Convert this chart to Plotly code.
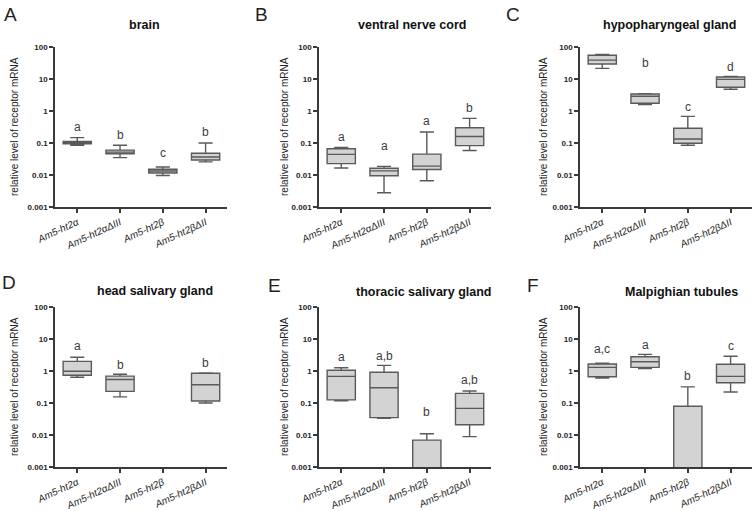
import math
import plotly.graph_objects as go

# ---------------- data ----------------
categories = ["Am5-ht2α", "Am5-ht2αΔIII", "Am5-ht2β", "Am5-ht2βΔII"]
tick_labels = ["<i>Am5-ht2α</i>", "<i>Am5-ht2αΔIII</i>", "<i>Am5-ht2β</i>", "<i>Am5-ht2βΔII</i>"]
panel_ids = ["A", "B", "C", "D", "E", "F"]
panel_titles = ["brain", "ventral nerve cord", "hypopharyngeal gland",
                "head salivary gland", "thoracic salivary gland", "Malpighian tubules"]
y_tick_vals = [0.001, 0.01, 0.1, 1, 10, 100]
y_tick_text = ["0.001", "0.01", "0.1", "1", "10", "100"]
y_title = "relative level of receptor mRNA"

# A brain
brain_low = [0.085, 0.035, 0.0096, 0.0257]
brain_q1 = [0.095, 0.046, 0.0115, 0.0295]
brain_med = [0.102, 0.052, 0.0133, 0.0365]
brain_q3 = [0.112, 0.060, 0.0151, 0.048]
brain_high = [0.147, 0.085, 0.0178, 0.10]
brain_letters = ["a", "b", "c", "b"]
brain_letter_y = [0.31, 0.18, 0.049, 0.22]

# B ventral nerve cord
vnc_low = [0.0165, 0.0028, 0.0066, 0.058]
vnc_q1 = [0.0227, 0.0095, 0.0148, 0.083]
vnc_med = [0.044, 0.0135, 0.019, 0.16]
vnc_q3 = [0.066, 0.0162, 0.045, 0.30]
vnc_high = [0.072, 0.0186, 0.22, 0.59]
vnc_letters = ["a", "a", "a", "b"]
vnc_letter_y = [0.155, 0.079, 0.50, 1.27]

# C hypopharyngeal gland
hpg_low = [21.5, 1.6, 0.085, 4.8]
hpg_q1 = [29.5, 1.74, 0.098, 5.5]
hpg_med = [39, 2.9, 0.133, 9.7]
hpg_q3 = [55, 3.4, 0.29, 11.5]
hpg_high = [59, 3.5, 0.68, 12]
hpg_letters = ["a", "b", "c", "d"]
hpg_letter_y = [282, 31.6, 1.38, 24.5]

# D head salivary gland (no data for Am5-ht2β)
hsg_low = [0.64, 0.155, None, 0.10]
hsg_q1 = [0.74, 0.23, None, 0.115]
hsg_med = [0.98, 0.54, None, 0.37]
hsg_q3 = [2.0, 0.69, None, 0.85]
hsg_high = [2.7, 0.79, None, 0.87]
hsg_letters = ["a", "b", "", "b"]
hsg_letter_y = [5.9, 1.58, None, 1.78]

# E thoracic salivary gland
tsg_low = [0.117, 0.033, 0.0001, 0.0089]
tsg_q1 = [0.125, 0.035, 0.0002, 0.021]
tsg_med = [0.68, 0.30, 0.0004, 0.068]
tsg_q3 = [1.05, 0.91, 0.0069, 0.20]
tsg_high = [1.26, 1.5, 0.011, 0.237]
tsg_letters = ["a", "a,b", "b", "a,b"]
tsg_letter_y = [2.75, 3.0, 0.051, 0.51]

# F Malpighian tubules
mt_low = [0.60, 1.2, 0.0001, 0.22]
mt_q1 = [0.66, 1.3, 0.0002, 0.43]
mt_med = [1.3, 1.95, 0.0006, 0.68]
mt_q3 = [1.66, 2.8, 0.079, 1.62]
mt_high = [1.74, 3.3, 0.32, 2.9]
mt_letters = ["a,c", "a", "b", "c"]
mt_letter_y = [4.7, 6.6, 0.71, 5.9]

panels = [
    (brain_low, brain_q1, brain_med, brain_q3, brain_high, brain_letters, brain_letter_y),
    (vnc_low, vnc_q1, vnc_med, vnc_q3, vnc_high, vnc_letters, vnc_letter_y),
    (hpg_low, hpg_q1, hpg_med, hpg_q3, hpg_high, hpg_letters, hpg_letter_y),
    (hsg_low, hsg_q1, hsg_med, hsg_q3, hsg_high, hsg_letters, hsg_letter_y),
    (tsg_low, tsg_q1, tsg_med, tsg_q3, tsg_high, tsg_letters, tsg_letter_y),
    (mt_low, mt_q1, mt_med, mt_q3, mt_high, mt_letters, mt_letter_y),
]

# ---------------- layout constants ----------------
W, H = 756, 511
FONT = "Liberation Sans, Arial, Helvetica, sans-serif"
x_dom_px = [(55, 227), (319, 491), (580, 752)]
y_dom_px = [(47, 207), (307, 467)]
title_pos_px = [(144, 25), (412, 25), (669, 25), (155, 291), (423, 292), (681, 292)]
letter_pos_px = [(10, 14), (261, 14), (513, 14), (9, 282), (274, 285), (533, 285)]
ytitle_x_px = [14, 284, 543]

def px_x(v):
    return v / W

def px_y(v):
    return 1 - v / H

fig = go.Figure()
layout = dict(
    width=W, height=H,
    margin=dict(l=0, r=0, t=0, b=0, autoexpand=False),
    paper_bgcolor="white", plot_bgcolor="white",
    showlegend=False,
    font=dict(family=FONT, color="#222"),
    annotations=[],
)

def paper_note(x, y, text, font, angle=0):
    return dict(x=px_x(x), y=px_y(y), xref="paper", yref="paper",
                xanchor="center", yanchor="middle", text=text,
                showarrow=False, textangle=angle, font=font)

for i, (low, q1, med, q3, high, letters, letter_y) in enumerate(panels):
    row, col = divmod(i, 3)
    s = "" if i == 0 else str(i + 1)
    xa, ya = "x" + s, "y" + s
    for j in range(len(categories)):
        if med[j] is None:
            continue
        fig.add_trace(go.Box(
            x=[j], q1=[q1[j]], median=[med[j]], q3=[q3[j]],
            lowerfence=[low[j]], upperfence=[high[j]],
            name=categories[j], xaxis=xa, yaxis=ya,
            width=0.66, whiskerwidth=0.5, boxpoints=False,
            fillcolor="#d3d3d3", line=dict(color="#5a5a5a", width=1.4),
            showlegend=False, hoverinfo="skip",
        ))
        if letters[j]:
            layout["annotations"].append(dict(
                x=j, y=math.log10(letter_y[j]), xref=xa, yref=ya,
                xanchor="center", yanchor="middle",
                text=letters[j], showarrow=False,
                font=dict(size=12, color="#3c3c3c", family=FONT),
            ))
    x0, x1 = x_dom_px[col]
    y0, y1 = y_dom_px[row]
    layout["xaxis" + s] = dict(
        domain=[px_x(x0), px_x(x1)], anchor=ya, automargin=False,
        range=[-0.52, 3.5], tickvals=list(range(len(categories))),
        ticktext=tick_labels, tickangle=-25,
        tickfont=dict(size=10, color="#1e1e1e", family=FONT),
        showline=True, linecolor="#3a3a3a", linewidth=1.5,
        ticks="outside", ticklen=4, tickwidth=1.5, tickcolor="#3a3a3a",
        showgrid=False, zeroline=False, fixedrange=True,
    )
    layout["yaxis" + s] = dict(
        domain=[px_y(y1), px_y(y0)], anchor=xa, type="log", automargin=False,
        range=[-3, 2], tickvals=y_tick_vals, ticktext=y_tick_text,
        tickfont=dict(size=8, color="#1e1e1e", family=FONT, weight="bold"),
        showline=True, linecolor="#3a3a3a", linewidth=1.5,
        ticks="outside", ticklen=4, tickwidth=1.5, tickcolor="#3a3a3a",
        showgrid=False, zeroline=False, fixedrange=True,
    )
    tx, ty = title_pos_px[i]
    layout["annotations"].append(paper_note(
        tx, ty, panel_titles[i],
        dict(size=12.5, color="#111", family=FONT, weight="bold")))
    lx, ly = letter_pos_px[i]
    layout["annotations"].append(paper_note(
        lx, ly, panel_ids[i], dict(size=19, color="#222", family=FONT)))
    layout["annotations"].append(paper_note(
        ytitle_x_px[col], (y0 + y1) / 2, y_title,
        dict(size=10, color="#222", family=FONT), angle=-90))

fig.update_layout(**layout)
fig.write_html("out.html", config={"displayModeBar": False},
               post_script="document.body.style.margin='0';")
